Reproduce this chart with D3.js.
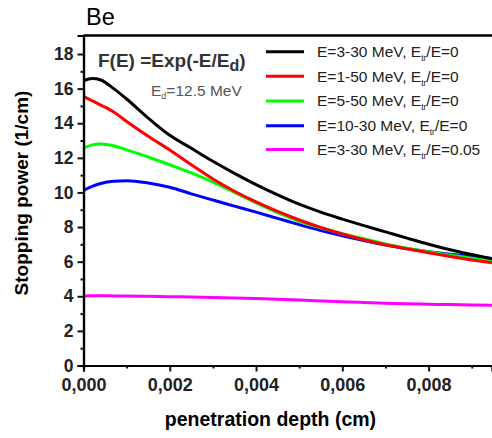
<!DOCTYPE html>
<html>
<head>
<meta charset="utf-8">
<script src="https://cdn.jsdelivr.net/npm/d3@7"></script>
<style>
  body { margin: 0; background: #fff; }
  text { font-family: "Liberation Sans", Arial, sans-serif; }
</style>
</head>
<body>
<div id="chart"></div>
<script>
// penetration depth (cm)
const depth = [0, 0.0002, 0.0004, 0.0007, 0.001, 0.0015, 0.002, 0.0025, 0.003, 0.0035, 0.004,
  0.0045, 0.005, 0.0055, 0.006, 0.0065, 0.007, 0.0075, 0.008, 0.0085, 0.009, 0.00947];

// stopping power (1/cm) for each source spectrum
const blackVals   = [16.45, 16.58, 16.5, 16.0, 15.4, 14.3, 13.3, 12.55, 11.8, 11.1, 10.45, 9.86, 9.32, 8.86, 8.46, 8.08, 7.72, 7.36, 7.01, 6.69, 6.41, 6.17];
const redVals     = [15.55, 15.3, 15.05, 14.65, 14.1, 13.25, 12.45, 11.6, 10.78, 10.07, 9.45, 8.9, 8.41, 7.98, 7.6, 7.27, 6.98, 6.74, 6.52, 6.3, 6.1, 5.93];
const greenVals   = [12.56, 12.75, 12.8, 12.7, 12.46, 12.05, 11.6, 11.13, 10.6, 10.0, 9.4, 8.83, 8.33, 7.95, 7.62, 7.32, 7.03, 6.78, 6.57, 6.38, 6.2, 6.04];
const blueVals    = [10.12, 10.35, 10.52, 10.65, 10.68, 10.55, 10.3, 9.92, 9.56, 9.21, 8.86, 8.5, 8.14, 7.8, 7.5, 7.22, 6.96, 6.75, 6.58, 6.43, 6.3, 6.19];
const magentaVals = [4.02, 4.03, 4.03, 4.02, 4.01, 4.0, 3.98, 3.96, 3.93, 3.9, 3.87, 3.83, 3.78, 3.73, 3.68, 3.64, 3.6, 3.57, 3.54, 3.52, 3.5, 3.48];

const seriesNames = ["E=3-30 MeV, E|tr|/E=0", "E=1-50 MeV, E|tr|/E=0", "E=5-50 MeV, E|tr|/E=0",
  "E=10-30 MeV, E|tr|/E=0", "E=3-30 MeV, E|tr|/E=0.05"];
const seriesColors = ["#000000", "#ff0000", "#00ff00", "#0000ff", "#ff00ff"];
const seriesVals = [blackVals, redVals, greenVals, blueVals, magentaVals];

const xTicks = [0, 0.002, 0.004, 0.006, 0.008];
const xMinor = [0.001, 0.003, 0.005, 0.007, 0.009];
const yTicks = [0, 2, 4, 6, 8, 10, 12, 14, 16, 18];
const yMinor = [1, 3, 5, 7, 9, 11, 13, 15, 17];

const width = 492, height = 438;
const mLeft = 83.5, mRight = 492, mTop = 35.5, mBottom = 365.5;

const svg = d3.select("#chart").append("svg")
  .attr("width", width).attr("height", height);

const x = d3.scaleLinear().domain([0, 0.00947]).range([mLeft, mRight]);
const y = d3.scaleLinear().domain([0, 19.07]).range([mBottom, mTop]);

const commaFmt = d3.formatLocale({ decimal: ",", thousands: ".", grouping: [3], currency: ["", ""] }).format(".3f");

svg.append("defs").append("clipPath").attr("id", "plot")
  .append("rect").attr("x", mLeft).attr("y", mTop).attr("width", mRight - mLeft).attr("height", mBottom - mTop);

// curves, drawn bottom-up so black ends on top
const line = d3.line().x((d, i) => x(depth[i])).y(d => y(d)).curve(d3.curveMonotoneX);
svg.append("g").attr("clip-path", "url(#plot)")
  .selectAll("path").data(seriesVals.slice().reverse()).enter().append("path")
  .attr("d", line)
  .attr("fill", "none")
  .attr("stroke", (d, i) => seriesColors[seriesVals.length - 1 - i])
  .attr("stroke-width", 3)
  .attr("stroke-linejoin", "round");

// axes
svg.append("g").attr("class", "yax").attr("transform", `translate(${mLeft},0)`)
  .call(d3.axisLeft(y).tickValues(yTicks).tickSize(6).tickPadding(4));
svg.append("g").attr("transform", `translate(${mLeft},0)`)
  .call(d3.axisLeft(y).tickValues(yMinor).tickSize(3).tickFormat(""));
svg.append("g").attr("class", "xax").attr("transform", `translate(0,${mBottom})`)
  .call(d3.axisBottom(x).tickValues(xTicks).tickSize(6).tickPadding(7).tickFormat(commaFmt));
svg.append("g").attr("transform", `translate(0,${mBottom})`)
  .call(d3.axisBottom(x).tickValues(xMinor).tickSize(3).tickFormat(""));

svg.selectAll(".domain").attr("stroke", "#000").attr("stroke-width", 2.2);
svg.selectAll(".tick line").attr("stroke", "#111").attr("stroke-width", 2);
svg.selectAll(".tick text").attr("font-weight", "bold").attr("fill", "#222")
  .attr("font-family", "Liberation Sans, Arial, sans-serif");
svg.selectAll(".yax .tick text").attr("font-size", 17.5);
svg.selectAll(".xax .tick text").attr("font-size", 18);

// top frame line
svg.append("line").attr("x1", mLeft).attr("x2", mRight).attr("y1", mTop).attr("y2", mTop)
  .attr("stroke", "#000").attr("stroke-width", 2.5);

// titles
svg.append("text").attr("x", 86).attr("y", 25).attr("font-size", 23.5).attr("fill", "#000").text("Be");
svg.append("text").attr("x", 270.5).attr("y", 426).attr("text-anchor", "middle")
  .attr("font-size", 19.5).attr("font-weight", "bold").text("penetration depth (cm)");
svg.append("text").attr("transform", "translate(28,193) rotate(-90)").attr("text-anchor", "middle")
  .attr("font-size", 19).attr("font-weight", "bold").text("Stopping power (1/cm)");

// spectrum formula
const f = svg.append("text").attr("x", 98).attr("y", 67).attr("font-size", 19)
  .attr("font-weight", "bold").attr("fill", "#333");
f.append("tspan").text("F(E) =Exp(-E/E");
f.append("tspan").attr("dy", 4).attr("font-size", 16).text("d");
f.append("tspan").attr("dy", -4).text(")");
const ed = svg.append("text").attr("x", 151).attr("y", 96).attr("font-size", 15.5).attr("fill", "#555");
ed.append("tspan").text("E");
ed.append("tspan").attr("dy", 3).attr("font-size", 9).text("d");
ed.append("tspan").attr("dy", -3).text("=12.5 MeV");

// legend
const legendY = [51.7, 76.3, 101, 125.7, 149.5];
const lg = svg.append("g").selectAll("g").data(seriesNames).enter().append("g");
lg.append("line").attr("x1", 266).attr("x2", 304)
  .attr("y1", (d, i) => legendY[i]).attr("y2", (d, i) => legendY[i])
  .attr("stroke", (d, i) => seriesColors[i]).attr("stroke-width", 3);
const lt = lg.append("text").attr("x", 317).attr("y", (d, i) => legendY[i] + 5.3)
  .attr("font-size", 15.5).attr("fill", "#222");
lt.each(function (d) {
  const parts = d.split("|");
  const t = d3.select(this);
  t.append("tspan").text(parts[0]);
  t.append("tspan").attr("dy", 4).attr("font-size", 8.5).text(parts[1]);
  t.append("tspan").attr("dy", -4).text(parts[2]);
});
</script>
</body>
</html>
